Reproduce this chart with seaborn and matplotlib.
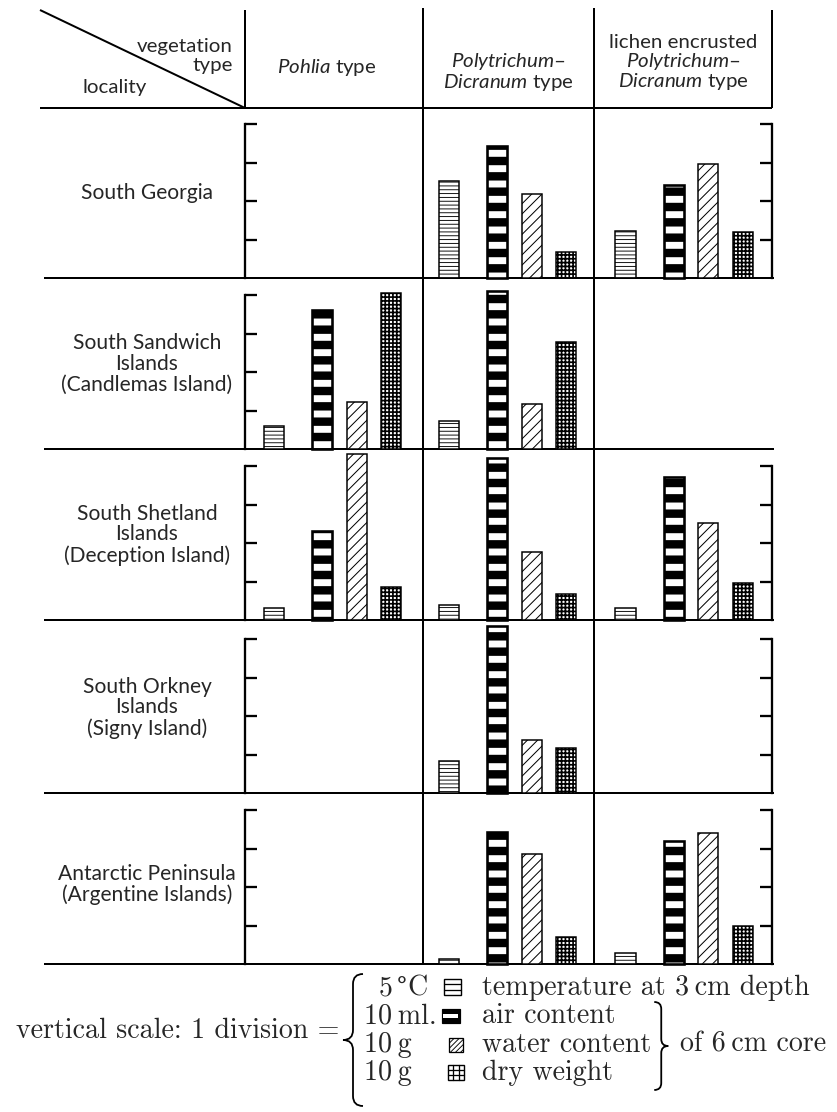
import numpy as np
import pandas as pd
import matplotlib
matplotlib.use("Agg")
import matplotlib.pyplot as plt
from matplotlib.lines import Line2D
from matplotlib.path import Path
from matplotlib.patches import PathPatch, Rectangle
import seaborn as sns

# ---------------------------------------------------------------- data
localities = [
    "South Georgia",
    "South Sandwich\nIslands\n(Candlemas Island)",
    "South Shetland\nIslands\n(Deception Island)",
    "South Orkney\nIslands\n(Signy Island)",
    "Antarctic Peninsula\n(Argentine Islands)",
]
vegetation_types = [
    r"$\mathit{Pohlia}$ type",
    "$\\mathit{Polytrichum}$–\n$\\mathit{Dicranum}$ type",
    "lichen encrusted\n$\\mathit{Polytrichum}$–\n$\\mathit{Dicranum}$ type",
]
measures = ["temperature", "air content", "water content", "dry weight"]
units_per_division = [5, 10, 10, 10]          # °C, ml, g, g

nan = np.nan
# rows: localities, columns: vegetation types (NaN = not sampled)
temperature_c = [[nan, 12.6, 6.1], [3.0, 3.7, nan], [1.5, 2.0, 1.5], [nan, 4.1, nan], [nan, 0.6, 1.4]]
air_ml = [[nan, 34.3, 24.2], [36.2, 41.0, nan], [23.2, 42.2, 37.1], [nan, 43.5, nan], [nan, 34.4, 32.0]]
water_g = [[nan, 21.9, 29.7], [12.2, 11.8, nan], [43.2, 17.7, 25.2], [nan, 13.7, nan], [nan, 28.5, 34.0]]
dry_weight_g = [[nan, 6.7, 11.9], [40.6, 27.8, nan], [8.7, 6.7, 9.6], [nan, 11.7, nan], [nan, 7.1, 9.8]]

legend_units = ["5", "10\u2009ml.", "10\u2009g", "10\u2009g"]
legend_names = ["temperature at 3\u2009cm depth", "air content", "water content", "dry weight"]

# ---------------------------------------------------------------- layout
DPI = 92
W, H = 837, 1112
PT = 72 / DPI                       # points per pixel
ROW_BASE = [278, 449, 620, 793, 964]
ROW_H = 170.5
DIV_PX = 38.5                       # one scale division
COL_EDGES = [245, 423, 594, 772]
BAR0_PX = [29, 26, 31.5]            # first bar centre from column edge
SLOT_PX = 34.5
SLOTS = [0.0, 1.4, 2.4, 3.4]
BAR_W = 0.58
right_scale = [True, False, True, True, True]

# hatch, hatch line width (px), outline width (px)
bar_style = {
    "temperature": ("----", 0.9, 1.5),
    "air content": ("-", 8.4, 2.6),
    "water content": ("///", 1.0, 1.5),
    "dry weight": ("++++", 1.7, 1.5),
}

sns.set_theme(style="white")
plt.rcParams.update({
    "mathtext.fontset": "custom",
    "mathtext.rm": "Lato",
    "mathtext.it": "Lato:italic",
    "mathtext.bf": "Lato:bold",
})
SANS = ["Lato", "DejaVu Sans"]
SERIF = ["cmr10", "DejaVu Serif"]
plt.rcParams["font.family"] = SANS
plt.rcParams["axes.formatter.use_mathtext"] = True

values = {"temperature": temperature_c, "air content": air_ml,
          "water content": water_g, "dry weight": dry_weight_g}
records = []
for i in range(len(localities)):
    for j in range(len(vegetation_types)):
        for k, m in enumerate(measures):
            v = values[m][i][j]
            if not np.isnan(v):
                records.append(dict(row=i, col=j, measure=m, slot=SLOTS[k],
                                    value=v, divisions=v / units_per_division[k]))
df = pd.DataFrame(records)

fig = plt.figure(figsize=(W / DPI, H / DPI), dpi=DPI, facecolor="white")
base = fig.add_axes([0, 0, 1, 1])
base.set_xlim(0, W)
base.set_ylim(H, 0)
base.axis("off")


def rule(x0, y0, x1, y1, lw=2.0):
    base.add_line(Line2D([x0, x1], [y0, y1], color="black", lw=lw * PT,
                         solid_capstyle="butt"))


# table frame
rule(40, 10, 245, 108, 2.0)
rule(245, 10, 245, 108)
rule(772, 10, 772, 108)
rule(423, 8, 423, 964)
rule(594, 8, 594, 964)
rule(40, 108, 772, 108)
for yb in ROW_BASE:
    rule(44, yb, 774, yb)

# header texts
hdr = 20.5 * PT
base.text(233, 56, "vegetation\ntype", ha="right", va="center", multialignment="right",
          fontsize=hdr, linespacing=1.2)
base.text(83, 88, "locality", ha="left", va="center", fontsize=hdr)
base.text(327, 68, vegetation_types[0], ha="center", va="center", fontsize=hdr)
base.text(508.5, 72, vegetation_types[1], ha="center", va="center", fontsize=hdr,
          multialignment="center", linespacing=1.0)
base.text(683, 63, vegetation_types[2], ha="center", va="center", fontsize=hdr,
          multialignment="center", linespacing=1.0)

# locality labels
for i, loc in enumerate(localities):
    yc = ROW_BASE[i] - ROW_H / 2 + (6 if i == 4 else 0)
    base.text(147, yc, loc, ha="center", va="center", multialignment="center",
              fontsize=21 * PT, linespacing=1.05)

# bar cells
for i in range(len(localities)):
    for j in range(len(vegetation_types)):
        x0, x1 = COL_EDGES[j], COL_EDGES[j + 1]
        ax = fig.add_axes([x0 / W, 1 - ROW_BASE[i] / H, (x1 - x0) / W, ROW_H / H])
        ax.patch.set_alpha(0)
        cell = df[(df.row == i) & (df.col == j)]
        for m in measures:
            d = cell[cell.measure == m]
            if d.empty:
                continue
            hatch, hlw, lw = bar_style[m]
            n0 = len(ax.patches)
            with plt.rc_context({"hatch.linewidth": hlw * PT}):
                sns.barplot(data=d, x="slot", y="divisions", native_scale=True,
                            width=BAR_W, color="white", saturation=1,
                            edgecolor="black", linewidth=lw * PT, hatch=hatch,
                            errorbar=None, ax=ax)
            for p in ax.patches[n0:]:
                p.set_clip_on(False)
                if hasattr(p, "set_hatch_linewidth"):
                    p.set_hatch_linewidth(hlw * PT)
        ax.set_xlim(-BAR0_PX[j] / SLOT_PX, (x1 - x0 - BAR0_PX[j]) / SLOT_PX)
        ax.set_ylim(0, ROW_H / DIV_PX)
        ax.set_xlabel("")
        ax.set_ylabel("")
        ax.set_xticks([])
        for s in ax.spines.values():
            s.set_visible(False)
        show_left = j == 0
        show_right = j == 2 and right_scale[i]
        if show_left or show_right:
            side = "left" if show_left else "right"
            sp = ax.spines[side]
            sp.set_visible(True)
            sp.set_color("black")
            sp.set_linewidth(2.3 * PT)
            sp.set_bounds(0, 4)
            ax.set_yticks([1, 2, 3, 4])
            ax.yaxis.set_ticks_position(side)
            ax.tick_params(axis="y", which="both", direction="in", length=12 * PT,
                           width=2.3 * PT, color="black", left=show_left,
                           right=show_right, labelleft=False, labelright=False)
        else:
            ax.set_yticks([])

# ---------------------------------------------------------------- scale key
def curly(x_tip, x_end, y0, y1, lw=1.8):
    xm = (x_tip + x_end) / 2
    ym = (y0 + y1) / 2
    r = abs(x_end - x_tip) / 2
    verts = [(x_end, y0), (xm, y0), (xm, y0 + r), (xm, ym - r), (xm, ym), (x_tip, ym),
             (xm, ym), (xm, ym + r), (xm, y1 - r), (xm, y1), (x_end, y1)]
    codes = [Path.MOVETO, Path.CURVE3, Path.CURVE3, Path.LINETO, Path.CURVE3, Path.CURVE3,
             Path.CURVE3, Path.CURVE3, Path.LINETO, Path.CURVE3, Path.CURVE3]
    base.add_patch(PathPatch(Path(verts, codes), fill=False, lw=lw * PT, ec="black"))


key_fs = 28 * PT
key_base = [995, 1023, 1052, 1080]
NAME_X = 482
base.text(339, 1038, "vertical scale: 1 division =", ha="right", va="baseline",
          fontsize=key_fs, family=SERIF)
curly(343, 363, 974, 1106)
unit_x = [379, 364, 364, 364]
for k in range(4):
    base.text(unit_x[k], key_base[k], legend_units[k], ha="left", va="baseline",
              fontsize=key_fs, family=SERIF)
    base.text(NAME_X, key_base[k], legend_names[k], ha="left", va="baseline",
              fontsize=key_fs, family=SERIF)
base.text(396, key_base[0], "°", ha="left", va="baseline", fontsize=key_fs * 0.85,
          family=["DejaVu Serif"])
base.text(407, key_base[0], "C", ha="left", va="baseline", fontsize=key_fs, family=SERIF)
wc = base.text(NAME_X, key_base[2], legend_names[2], ha="left", va="baseline",
               fontsize=key_fs, family=SERIF, alpha=0)
fig.canvas.draw()
bb = wc.get_window_extent().transformed(base.transData.inverted())
x_end = max(bb.x0, bb.x1)
curly(x_end + 17, x_end + 3, 1002, 1090)
base.text(x_end + 29, key_base[2], "of 6\u2009cm core", ha="left", va="baseline",
          fontsize=key_fs, family=SERIF)

# small key symbols
sym = dict(color="black", lw=1.3 * PT)
sx, sw = 444, 17
yt = key_base[0] - 16
base.add_patch(Rectangle((sx, yt), sw, 16, fill=False, ec="black", lw=1.4 * PT))
for f in (1 / 3, 2 / 3):
    base.add_line(Line2D([sx, sx + sw], [yt + 16 * f] * 2, **sym))
ya = key_base[1] - 14
base.add_patch(Rectangle((sx - 2, ya), sw + 1, 14, fc="black", ec="black", lw=1.2 * PT))
base.add_patch(Rectangle((sx - 0.5, ya + 5), sw - 2, 4, fc="white", ec="none"))
yw = key_base[2] - 14
with plt.rc_context({"hatch.linewidth": 0.9 * PT}):
    base.add_patch(Rectangle((sx + 5, yw), 14, 14, fc="white", ec="black",
                             lw=1.3 * PT, hatch="//////"))
yd = key_base[3] - 15
base.add_patch(Rectangle((sx + 4, yd), 16, 15, fill=False, ec="black", lw=1.4 * PT))
for f in (1 / 3, 2 / 3):
    base.add_line(Line2D([sx + 4, sx + 20], [yd + 15 * f] * 2, **sym))
    base.add_line(Line2D([sx + 4 + 16 * f] * 2, [yd, yd + 15], **sym))

fig.savefig("out.png", dpi=DPI, facecolor="white")
